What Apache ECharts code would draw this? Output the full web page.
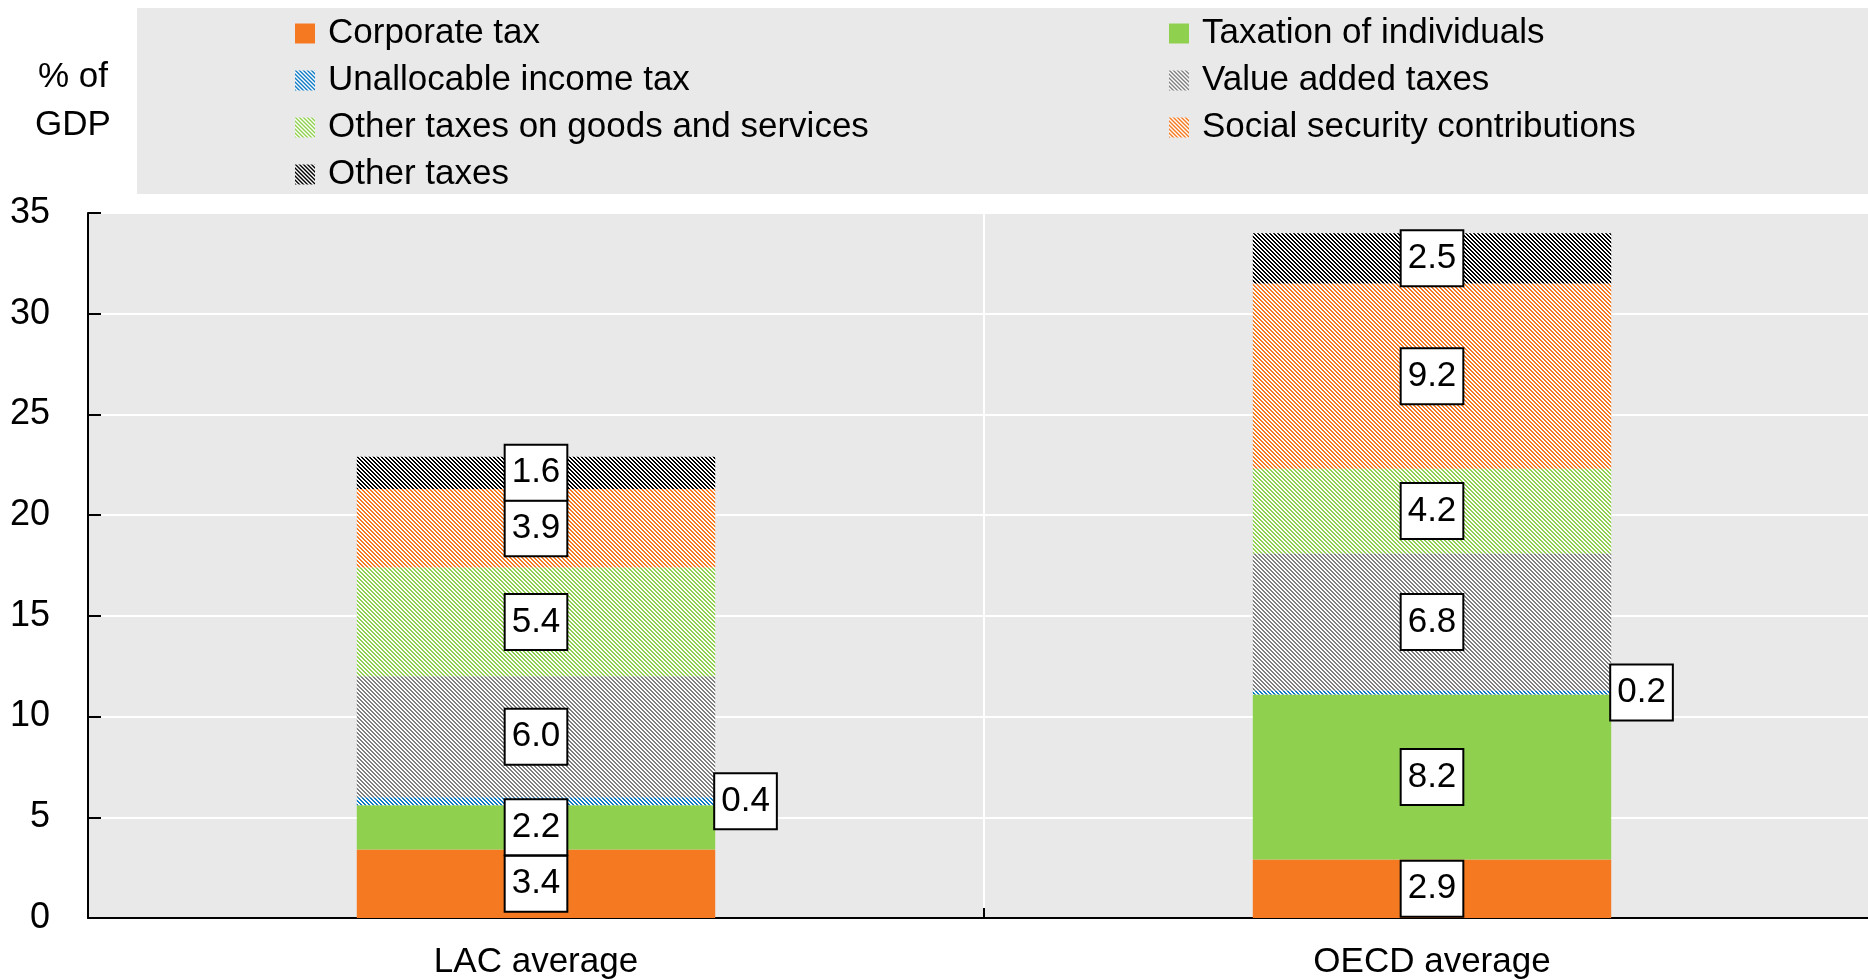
<!DOCTYPE html>
<html>
<head>
<meta charset="utf-8">
<script src="https://cdn.jsdelivr.net/npm/echarts@6/dist/echarts.min.js"></script>
<style>
html, body { margin: 0; padding: 0; background: #fff; overflow: hidden; }
/* plot runs a little past the right edge of the window, as in the original */
#chart { width: 1880px; height: 980px; }
</style>
</head>
<body>
<div id="chart"></div>
<script>
// data (% of GDP)
var categories = ['LAC average', 'OECD average'];
var corporateTax = [3.4, 2.9];
var individualsTax = [2.2, 8.2];
var unallocableTax = [0.4, 0.2];
var valueAddedTax = [6.0, 6.8];
var otherGoodsTax = [5.4, 4.2];
var socialSecurity = [3.9, 9.2];
var otherTaxes = [1.6, 2.5];

var FONT = "'Liberation Sans Narrow', 'Arial Narrow', 'Liberation Sans', Arial, sans-serif";

// hatch fill, stripes going top-left to bottom-right
function hatch(color) {
	var c = document.createElement('canvas');
	c.width = 4;
	c.height = 4;
	var ctx = c.getContext('2d');
	ctx.fillStyle = '#fff';
	ctx.fillRect(0, 0, 4, 4);
	ctx.fillStyle = color;
	for (var y = 0; y < 4; y++) {
		for (var x = 0; x < 4; x++) {
			var d = ((x - y) % 4 + 4) % 4;
			if (d < 2) ctx.fillRect(x, y, 1, 1);
		}
	}
	return { image: c, repeat: 'repeat' };
}

var labelBox = {
	show: true,
	position: 'inside',
	formatter: function (p) { return p.value.toFixed(1); },
	fontFamily: FONT,
	fontSize: 35,
	lineHeight: 36,
	color: '#000',
	backgroundColor: '#fff',
	borderColor: '#000',
	borderWidth: 2,
	padding: [10, 6, 8, 6]
};

function bar(name, values, fill, labelOpts) {
	return {
		name: name,
		type: 'bar',
		stack: 'total',
		barWidth: '40%',
		data: values,
		itemStyle: { color: fill },
		label: Object.assign({}, labelBox, labelOpts || {})
	};
}

var legendText = { fontFamily: FONT, fontSize: 35, lineHeight: 35, color: '#000', padding: [0, 0, 0, 8] };

var myChart = echarts.init(document.getElementById('chart'));

var option = {
	animation: false,
	textStyle: { fontFamily: FONT },
	title: {
		text: '% of\nGDP',
		left: 68,
		top: 48,
		textAlign: 'center',
		textStyle: { fontFamily: FONT, fontSize: 35, lineHeight: 48, fontWeight: 'normal', color: '#000' }
	},
	graphic: [{
		type: 'rect',
		left: 137,
		top: 8,
		z: -10,
		shape: { width: 1743, height: 186 },
		style: { fill: '#e9e9e9' }
	}],
	legend: [{
		orient: 'vertical',
		left: 295,
		top: 16,
		padding: 0,
		itemWidth: 20,
		itemHeight: 20,
		itemGap: 12,
		selectedMode: false,
		icon: 'rect',
		textStyle: legendText,
		data: ['Corporate tax', 'Unallocable income tax', 'Other taxes on goods and services', 'Other taxes']
	}, {
		orient: 'vertical',
		left: 1169,
		top: 16,
		padding: 0,
		itemWidth: 20,
		itemHeight: 20,
		itemGap: 12,
		selectedMode: false,
		icon: 'rect',
		textStyle: legendText,
		data: ['Taxation of individuals', 'Value added taxes', 'Social security contributions']
	}],
	grid: {
		left: 88,
		right: 0,
		top: 213,
		bottom: 61,
		show: true,
		backgroundColor: '#e9e9e9',
		borderWidth: 0
	},
	xAxis: {
		type: 'category',
		data: categories,
		axisLine: { show: true, lineStyle: { color: '#000', width: 2 } },
		axisTick: { show: true, inside: true, length: 10, lineStyle: { color: '#000', width: 2 } },
		splitLine: { show: true, lineStyle: { color: '#fff', width: 2 } },
		axisLabel: { fontFamily: FONT, fontSize: 35, color: '#000', margin: 27 }
	},
	yAxis: {
		type: 'value',
		min: 0,
		max: 35,
		interval: 5,
		axisLine: { show: true, lineStyle: { color: '#000', width: 2 } },
		axisTick: { show: true, inside: true, length: 13, lineStyle: { color: '#000', width: 2 } },
		splitLine: { show: true, lineStyle: { color: '#fff', width: 2 } },
		axisLabel: { fontFamily: FONT, fontSize: 36, color: '#000', margin: 38 }
	},
	series: [
		bar('Corporate tax', corporateTax, '#f47920'),
		bar('Taxation of individuals', individualsTax, '#8fd14f'),
		bar('Unallocable income tax', unallocableTax, hatch('#0e7ac4'), { position: 'right', distance: 0 }),
		bar('Value added taxes', valueAddedTax, hatch('#7f7f7f')),
		bar('Other taxes on goods and services', otherGoodsTax, hatch('#8fd14f')),
		bar('Social security contributions', socialSecurity, hatch('#f47920')),
		bar('Other taxes', otherTaxes, hatch('#000000'))
	]
};

myChart.setOption(option);
</script>
</body>
</html>
